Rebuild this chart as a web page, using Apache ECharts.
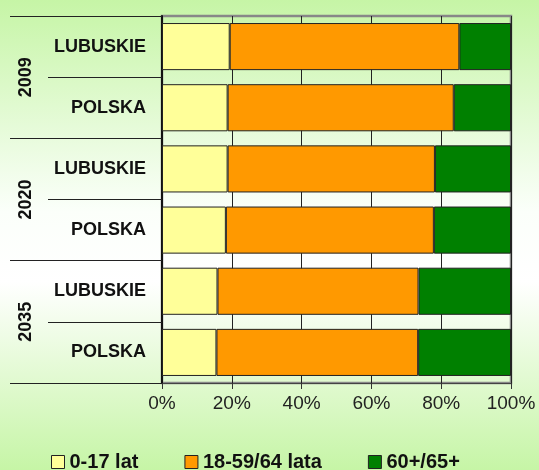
<!DOCTYPE html>
<html>
<head>
<meta charset="utf-8">
<script src="https://cdn.jsdelivr.net/npm/echarts@6/dist/echarts.min.js"></script>
<style>
  html, body { margin: 0; padding: 0; }
  #chart { width: 539px; height: 470px; }
</style>
</head>
<body>
<div id="chart"></div>
<script>
// lata i regiony
const years = ["2009", "2020", "2035"];
const regions = ["LUBUSKIE", "POLSKA", "LUBUSKIE", "POLSKA", "LUBUSKIE", "POLSKA"];
const seriesNames = ["0-17 lat", "18-59/64 lata", "60+/65+"];

// udzial grup wieku (%)
const kids = [19.4, 18.8, 18.8, 18.3, 15.9, 15.6];
const working = [65.8, 64.8, 59.4, 59.6, 57.6, 57.8];
const seniors = [14.8, 16.4, 21.8, 22.1, 26.5, 26.6];

const tickLabels = [0, 20, 40, 60, 80, 100];

const colors = ["#FFFF99", "#FF9900", "#008000"];
const font = "Arial, 'Liberation Sans', sans-serif";

// unikalne klucze kategorii (rok|region)
const keys = regions.map((r, i) => years[Math.floor(i / 2)] + "|" + r);

const chart = echarts.init(document.getElementById("chart"));

const option = {
  backgroundColor: {
    type: "linear", x: 0, y: 0, x2: 0, y2: 1,
    colorStops: [
      { offset: 0, color: "#c6f5a6" },
      { offset: 0.45, color: "#fbfffa" },
      { offset: 0.6, color: "#ffffff" },
      { offset: 1, color: "#c6f5a6" }
    ]
  },
  textStyle: { fontFamily: font },
  animation: false,
  grid: {
    left: 162,
    right: 28,
    top: 16,
    bottom: 87,
    show: true,
    borderColor: "#888",
    borderWidth: 2.5,
    backgroundColor: "transparent"
  },
  legend: {
    data: seriesNames,
    left: 46,
    top: 447,
    itemWidth: 13,
    itemHeight: 13,
    itemGap: 46,
    icon: "rect",
    itemStyle: { borderColor: "#222", borderWidth: 1 },
    textStyle: { fontSize: 20, fontWeight: "bold", color: "#111", fontFamily: font }
  },
  xAxis: {
    type: "value",
    min: tickLabels[0],
    max: tickLabels[tickLabels.length - 1],
    interval: 20,
    axisLine: { show: true, lineStyle: { color: "#444", width: 1 } },
    axisTick: { show: true, length: 6, lineStyle: { color: "#333" } },
    splitLine: { show: true, lineStyle: { color: "#222", width: 1 } },
    axisLabel: { formatter: "{value}%", fontSize: 19, color: "#222", margin: 11 }
  },
  yAxis: [
    {
      type: "category",
      data: keys,
      inverse: true,
      position: "left",
      axisLine: { show: true, lineStyle: { color: "#111", width: 2 } },
      axisTick: { show: true, length: 114, lineStyle: { color: "#222", width: 1 } },
      axisLabel: {
        formatter: v => v.split("|")[1],
        fontSize: 18,
        fontWeight: "bold",
        color: "#111",
        margin: 16
      }
    },
    {
      type: "category",
      data: years,
      inverse: true,
      position: "left",
      offset: 0,
      axisLine: { show: false },
      axisTick: { show: true, length: 152, lineStyle: { color: "#222", width: 1 } },
      axisLabel: {
        rotate: 90,
        fontSize: 18,
        fontWeight: "bold",
        color: "#111",
        margin: 127
      }
    }
  ],
  series: [kids, working, seniors].map((d, i) => ({
    name: seriesNames[i],
    type: "bar",
    stack: "total",
    yAxisIndex: 0,
    barCategoryGap: "23%",
    data: d,
    itemStyle: { color: colors[i], borderColor: "#222", borderWidth: 1 }
  }))
};

chart.setOption(option);
window.addEventListener("resize", () => {
  chart.resize();
});
</script>
</body>
</html>
